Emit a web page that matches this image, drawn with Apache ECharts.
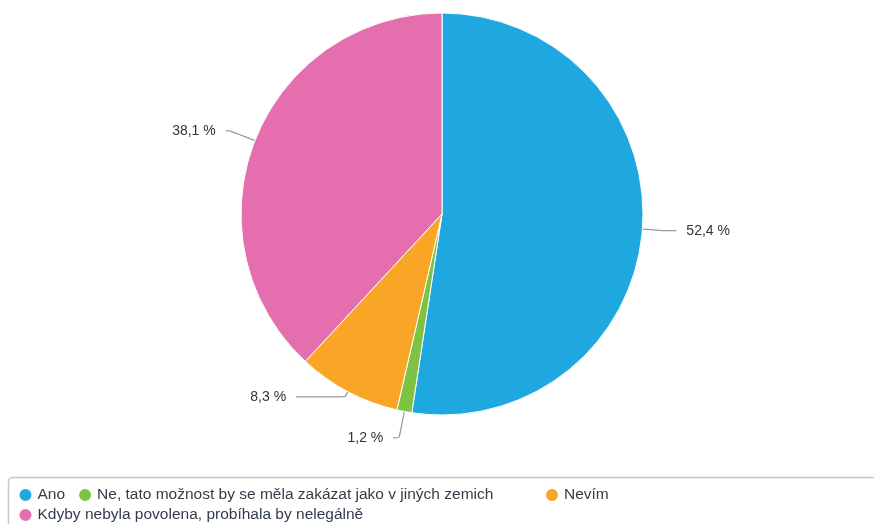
<!DOCTYPE html>
<html>
<head>
<meta charset="utf-8">
<script src="https://cdn.jsdelivr.net/npm/echarts@6/dist/echarts.min.js"></script>
<style>
  html, body { margin: 0; padding: 0; background: #fff; }
  #chart { width: 874px; height: 524px; }
</style>
</head>
<body>
<div id="chart"></div>
<script>
// Survey answers, clockwise from 12 o'clock
const categories = [
  'Ano',
  'Ne, tato možnost by se měla zakázat jako v jiných zemich',
  'Nevím',
  'Kdyby nebyla povolena, probíhala by nelegálně'
];
const shares = [52.4, 1.2, 8.3, 38.1];
const colors = ['#1fa8e0', '#7dc242', '#f9a626', '#e56fae'];

// per-slice connector lengths [radial, horizontal]
const connectors = [[20, 14], [27, 6], [6, 49], [27, 4]];

const FONT = '"Liberation Sans", Arial, sans-serif';

const chart = echarts.init(document.getElementById('chart'), null, { renderer: 'canvas' });

const data = categories.map((name, i) => ({
  name,
  value: shares[i],
  itemStyle: { color: colors[i] },
  labelLine: { length: connectors[i][0], length2: connectors[i][1] }
}));

const legendText = { color: '#333d4a', fontSize: 15.5, fontFamily: FONT };
const legendBase = {
  orient: 'horizontal',
  icon: 'circle',
  itemWidth: 14,
  itemHeight: 14,
  itemGap: 12,
  padding: 0,
  selectedMode: false,
  textStyle: legendText
};

chart.setOption({
  animation: false,
  backgroundColor: '#ffffff',
  color: colors,
  graphic: [{
    type: 'rect',
    silent: true,
    shape: { x: 8.5, y: 477.5, width: 870, height: 70, r: 4 },
    style: { fill: 'none', stroke: '#c8c8c8', lineWidth: 1.5 }
  }],
  legend: [
    Object.assign({}, legendBase, { left: 17.5, top: 487, data: [categories[0], categories[1]] }),
    Object.assign({}, legendBase, { left: 544, top: 487, data: [categories[2]] }),
    Object.assign({}, legendBase, { left: 17.5, top: 507, data: [categories[3]] })
  ],
  series: [{
    type: 'pie',
    center: [442, 214],
    radius: [0, 201],
    startAngle: 90,
    clockwise: true,
    avoidLabelOverlap: false,
    itemStyle: { borderColor: '#ffffff', borderWidth: 1 },
    label: {
      show: true,
      position: 'outside',
      formatter: p => String(p.value).replace('.', ',') + ' %',
      color: '#333333',
      fontSize: 14,
      fontFamily: FONT,
      distanceToLabelLine: 10
    },
    labelLine: {
      show: true,
      smooth: 0.2,
      lineStyle: { color: '#999999', width: 1.2 }
    },
    emphasis: { disabled: true },
    data
  }]
});
</script>
</body>
</html>
